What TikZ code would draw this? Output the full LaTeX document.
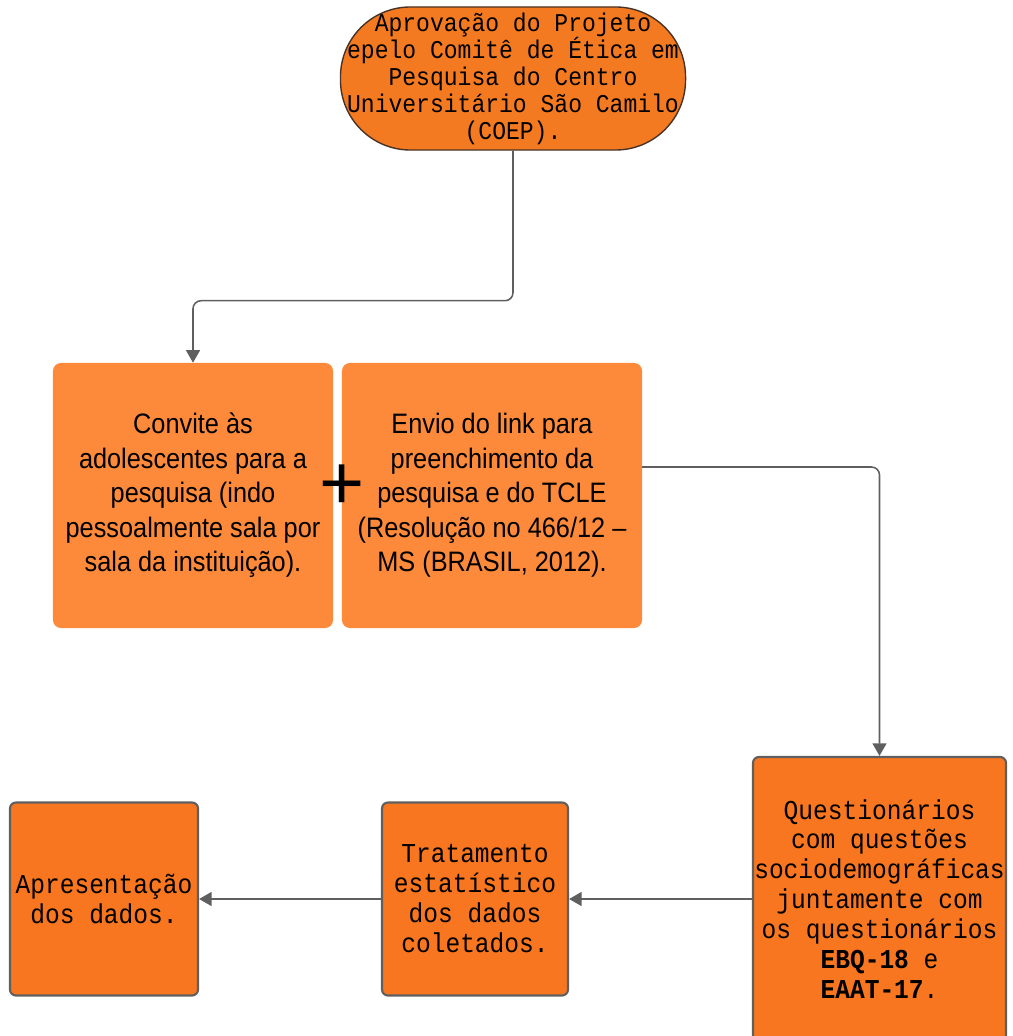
\documentclass[tikz,border=0pt]{standalone}
\usepackage{fontspec}
\setmainfont{Liberation Sans}
\newfontfamily\boxsans[FakeStretch=0.9]{Liberation Sans}
\newfontfamily\boxmono[FakeStretch=0.9]{Liberation Mono}
\usetikzlibrary{arrows.meta}
\definecolor{stadiumfill}{HTML}{F47A22}
\definecolor{lightfill}{HTML}{FD8A3A}
\definecolor{darkfill}{HTML}{F7761F}
\definecolor{edgegray}{HTML}{5F5F5F}
\definecolor{rimbrown}{HTML}{4A3325}
\tikzset{
  softbox/.style={fill=lightfill,rounded corners=0.2cm,minimum height=6.625cm,
    font=\boxsans\fontsize{20}{24.5}\selectfont},
  stepbox/.style={fill=darkfill,draw=edgegray,line width=1.5pt,rounded corners=0.15cm,
    font=\boxmono\fontsize{19.4}{21.3}\selectfont},
  conn/.style={draw=edgegray,line width=1.1pt,rounded corners=0.2cm,
    -{Triangle[length=9pt,width=10pt]}}
}
\begin{document}
\begin{tikzpicture}[x=0.025cm,y=-0.025cm]
    \useasboundingbox (0,0) rectangle (1012,1036);
    \begin{scope}[every node/.style={align=center,inner sep=0pt,text=black}]
      \node[fill=stadiumfill,draw=rimbrown,line width=1pt,rounded corners=1.75cm,
        minimum width=8.625cm,minimum height=3.575cm,
        font=\boxmono\fontsize{18.2}{19.2}\selectfont] (coep) at (513,78.5)
        {Aprovação do Projeto\\epelo Comitê de Ética em\\Pesquisa do Centro\\Universitário São Camilo\\(COEP).};
      \node[softbox,minimum width=7cm] (convite) at (193,495.5)
        {Convite às\\adolescentes para a\\pesquisa (indo\\pessoalmente sala por\\sala da instituição).};
      \node[softbox,minimum width=7.5cm] (envio) at (492,495.5)
        {Envio do link para\\preenchimento da\\pesquisa e do TCLE\\(Resolução no 466/12 –\\MS (BRASIL, 2012).};
      \node[font=\fontsize{55}{55}\selectfont] (plus) at (342,487) {+};
      \node[stepbox,minimum width=6.325cm,minimum height=7.1cm] (quest) at (879.5,899)
        {Questionários\\com questões\\sociodemográficas\\juntamente com\\os questionários\\\textbf{EBQ-18} e\\\textbf{EAAT-17}.};
      \node[stepbox,minimum width=4.65cm,minimum height=4.825cm] (trat) at (475,899)
        {Tratamento\\estatístico\\dos dados\\coletados.};
      \node[stepbox,minimum width=4.7cm,minimum height=4.825cm] (apres) at (104,899)
        {Apresentação\\dos dados.};
    \end{scope}
    \coordinate (envioOut) at (642,467);
    \begin{scope}
      \draw[conn] (coep.south) -- ++(0,150) -| (convite.north);
      \draw[conn] (envioOut) -| (quest.north);
      \draw[conn] (quest.west) -- (trat.east);
      \draw[conn] (trat.west) -- (apres.east);
    \end{scope}
  \end{tikzpicture}
\end{document}
